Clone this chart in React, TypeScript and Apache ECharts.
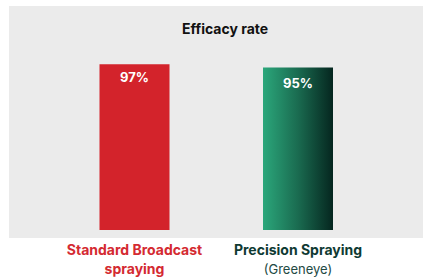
import React, { useEffect, useRef } from "react";
import * as echarts from "echarts";

const categories = ["Standard Broadcast\nspraying", "Precision Spraying\n(Greeneye)"];
const values = [97, 95];
const title = "Efficacy rate";

export default function App() {
  const ref = useRef<HTMLDivElement>(null);
  useEffect(() => {
    if (!ref.current) return;
    const chart = echarts.init(ref.current, undefined, { renderer: "svg" });
    const font = "Inter, 'Noto Sans', sans-serif";
    chart.setOption({
      animation: false,
      title: {
        text: title,
        left: 177,
        top: 16,
        textStyle: { fontFamily: font, fontSize: 14, fontWeight: "bold", color: "#111" },
      },
      graphic: [
        {
          type: "rect",
          z: -10,
          silent: true,
          shape: { x: 9, y: 6, width: 414, height: 232 },
          style: { fill: "#ebebeb" },
        },
      ],
      grid: { left: 52.75, right: 43.25, top: 59, bottom: 48 },
      xAxis: {
        type: "category",
        data: categories,
        axisLine: { show: false },
        axisTick: { show: false },
        axisLabel: {
          margin: 10,
          interval: 0,
          formatter: (v: string, i: number) => {
            const [a, b] = v.split("\n");
            return i === 0 ? `{r|${a}}\n{r|${b}}` : `{g|${a}}\n{n|${b}}`;
          },
          rich: {
            r: { fontFamily: font, fontSize: 14, fontWeight: "bold", color: "#d42a31", lineHeight: 19 },
            g: { fontFamily: font, fontSize: 14, fontWeight: "bold", color: "#0f3a33", lineHeight: 19 },
            n: { fontFamily: font, fontSize: 13, fontWeight: "normal", color: "#234a44", lineHeight: 19 },
          },
        },
      },
      yAxis: {
        type: "value",
        min: 0,
        max: 100,
        show: false,
        splitLine: { show: false },
      },
      series: [
        {
          type: "bar",
          barWidth: 70,
          data: values.map((v, i) => ({
            value: v,
            itemStyle: {
              color:
                i === 0
                  ? "#d3232b"
                  : new echarts.graphic.LinearGradient(0, 0, 1, 0, [
                      { offset: 0, color: "#2ba77b" },
                      { offset: 0.5, color: "#1a6b50" },
                      { offset: 1, color: "#05261f" },
                    ]),
            },
            label: { distance: i === 0 ? 6 : 9 },
          })),
          label: {
            show: true,
            position: "insideTop",
            formatter: "{c}%",
            color: "#fff",
            fontFamily: font,
            fontSize: 13,
            fontWeight: "bold",
          },
        },
      ],
    });
    return () => chart.dispose();
  }, []);
  return (
    <div
      ref={ref}
      style={{ position: "absolute", left: 0, top: 0, width: 423, height: 278, background: "#fff" }}
    />
  );
}
